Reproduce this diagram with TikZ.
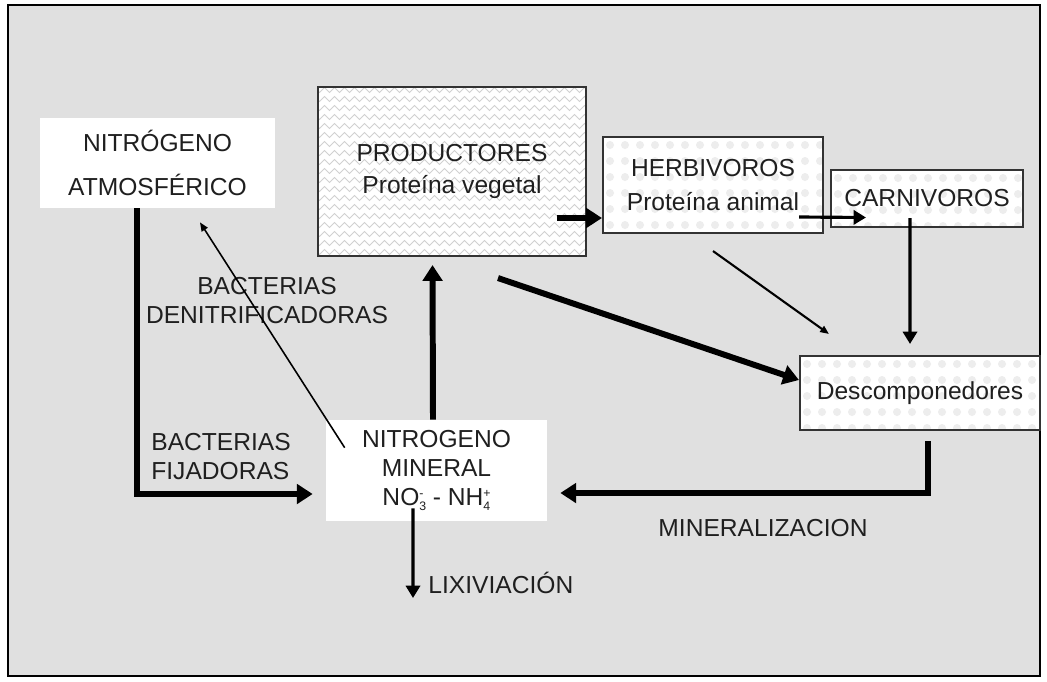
\documentclass[tikz,border=0pt]{standalone}
\usepackage{fontspec}
\setmainfont{Liberation Sans}
\usetikzlibrary{calc,arrows.meta,decorations.pathmorphing}

\tikzset{
  txt/.style={text=black!88, font=\fontsize{14}{16.5}\selectfont, align=center, inner sep=0pt},
  whitebox/.style={txt, fill=white},
  framebox/.style={txt, draw=black!80, line width=1.2pt},
  bigarrow/.style={line width=3.4pt, -{Triangle[length=9pt,width=11pt]}},
  midarrow/.style={line width=1.8pt, -{Triangle[length=7pt,width=8pt]}},
  thinarrow/.style={line width=0.9pt, -{Triangle[length=5pt,width=4pt]}}
}
\newcommand{\ionsub}[2]{\rlap{\raisebox{-0.35ex}{\scriptsize #1}}\raisebox{0.6ex}{\scriptsize #2}\hspace{0.1em}}

\begin{document}
\begin{tikzpicture}[x=0.02cm, y=-0.02cm]
    \useasboundingbox (0,0) rectangle (1047,681);
    \draw [line width=1.5pt, fill=black!12] (8,5) rectangle (1040,676);

    % boxes with their background patterns
    \fill [white] (318,87) rectangle (586,256);
    \begin{scope}
      \clip (318,87) rectangle (586,256);
      \foreach \yy in {90,99,...,260}
        \draw [black!18, line width=0.5pt, decorate, decoration={zigzag, segment length=0.2cm, amplitude=0.05cm}] (312,\yy) -- (592,\yy);
    \end{scope}
    \foreach \xa/\ya/\xb/\yb in {603/137/823/233, 831/170/1023/227, 800/356/1040/430} {
      \fill [white] (\xa,\ya) rectangle (\xb,\yb);
      \begin{scope}
        \clip (\xa,\ya) rectangle (\xb,\yb);
        \foreach \yy in {0,16,...,100}
          \foreach \xx in {0,15,...,250}
            \fill [black!7] (\xa+\xx+7,\ya+\yy+8) circle (4);
      \end{scope}
    }

    \node [whitebox, minimum width=4.7cm, minimum height=1.8cm] (atm) at (157.5,163) {NITRÓGENO\\[0.3cm]ATMOSFÉRICO};
    \node [framebox, minimum width=5.36cm, minimum height=3.38cm] (prod) at (452,171.5) {PRODUCTORES\\[0.05cm]Proteína vegetal};
    \node [framebox, minimum width=4.4cm, minimum height=1.92cm] (herb) at (713,185) {HERBIVOROS\\[0.1cm]Proteína animal};
    \node [framebox, minimum width=3.84cm, minimum height=1.14cm] (carn) at (927,198.5) {CARNIVOROS};
    \node [framebox, minimum width=4.8cm, minimum height=1.48cm] (desc) at (920,393) {Descomponedores};
    \node [whitebox, minimum width=4.42cm, minimum height=2.02cm] (mineral) at (436.5,470.5) {NITROGENO\\MINERAL\\NO\ionsub{3}{-} - NH\ionsub{4}{+}};

    % labels
    \node [txt] (denit) at (267,301) {BACTERIAS\\DENITRIFICADORAS};
    \node [txt, anchor=west, align=left] (fija) at (151,457) {BACTERIAS\\FIJADORAS};
    \node [txt] (minlab) at (763,528) {MINERALIZACION};
    \node [txt, anchor=west] (lixlab) at (428,583) {LIXIVIACIÓN};
    \coordinate (lixend) at (413,598);

    % arrows
    \draw [bigarrow, shorten >=0.26cm] ([xshift=-0.41cm]atm.south) |- ([yshift=-0.47cm]mineral.west);
    \draw [thinarrow] ([xshift=0.38cm,yshift=-0.56cm]mineral.north west) -- ([xshift=0.85cm,yshift=-0.28cm]atm.south);
    \draw [bigarrow] ([xshift=-0.07cm]mineral.north) -- ([xshift=-0.39cm,yshift=-0.16cm]prod.south);
    \draw [bigarrow] ([xshift=-0.6cm,yshift=-0.93cm]prod.east) -- ([yshift=-0.66cm]herb.west);
    \draw [bigarrow] ([xshift=0.92cm,yshift=-0.42cm]prod.south) -- ([yshift=0.26cm]desc.west);
    \draw [thinarrow, line width=1.2pt] ([yshift=-0.34cm]herb.south) -- ([xshift=0.6cm,yshift=0.42cm]desc.north west);
    \draw [midarrow] ([xshift=-0.5cm,yshift=-0.64cm]herb.east) -- ([xshift=0.72cm,yshift=-0.38cm]carn.west);
    \draw [midarrow] ([xshift=-0.34cm,yshift=0.2cm]carn.south) -- ([xshift=-0.2cm,yshift=0.22cm]desc.north);
    \draw [bigarrow] ([xshift=0.16cm,yshift=-0.2cm]desc.south) |- ([xshift=0.26cm,yshift=-0.45cm]mineral.east);
    \draw [midarrow] ([xshift=-0.47cm,yshift=0.26cm]mineral.south) -- (lixend);
  \end{tikzpicture}
\end{document}
